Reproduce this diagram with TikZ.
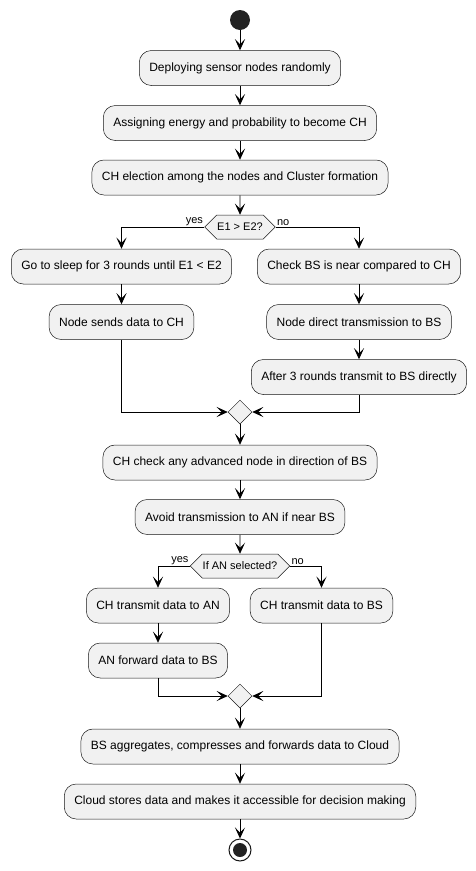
\documentclass[tikz,border=0pt]{standalone}
\usepackage{fontspec}
\setmainfont{Liberation Sans}
\usetikzlibrary{shapes.geometric,shapes.symbols,arrows.meta}
\definecolor{boxfill}{HTML}{F1F1F1}
\definecolor{boxline}{HTML}{181818}
\definecolor{dotfill}{HTML}{222222}

\begin{document}
\begin{tikzpicture}[x=1pt,y=-1pt,line width=0.8pt,
    >={Stealth[length=11pt,width=10pt,inset=5pt]},
    act/.style={draw=boxline, fill=boxfill, line width=0.5pt, rounded corners=12pt,
      minimum height=35pt, inner xsep=10pt, font=\fontsize{12}{14}\selectfont},
    hex/.style={signal, signal to=east and west, signal pointer angle=90,
      draw=boxline, fill=boxfill, line width=0.5pt, minimum height=24pt,
      inner xsep=0.5pt, font=\fontsize{11}{13}\selectfont},
    merge/.style={diamond, draw=boxline, fill=boxfill, line width=0.5pt,
      minimum size=24pt, inner sep=0pt},
    lbl/.style={font=\fontsize{11}{13}\selectfont, inner sep=1pt}]
  \useasboundingbox (0,0) rectangle (476,871);
  \node(start) [circle, fill=dotfill, minimum size=20pt, inner sep=0pt] at (240,20) {};
  \node(A1) [act] at (240,68) {Deploying sensor nodes randomly};
  \node(A2) [act] at (240,123) {Assigning energy and probability to become CH};
  \node(A3) [act] at (240,177.5) {CH election among the nodes and Cluster formation};
  \node(D1) [hex] at (240,227) {E1 > E2?};
  \node(L1) [act] at (121.5,266.5) {Go to sleep for 3 rounds until E1 < E2};
  \node(L2) [act] at (121.5,322) {Node sends data to CH};
  \node(R1) [act] at (359,266.5) {Check BS is near compared to CH};
  \node(R2) [act] at (359,322) {Node direct transmission to BS};
  \node(R3) [act] at (359,377) {After 3 rounds transmit to BS directly};
  \node(M1) [merge] at (240,412) {};
  \node(A4) [act] at (240,462.5) {CH check any advanced node in direction of BS};
  \node(A5) [act] at (240,517) {Avoid transmission to AN if near BS};
  \node(D2) [hex] at (240,566) {If AN selected?};
  \node(L3) [act] at (158,605.5) {CH transmit data to AN};
  \node(L4) [act] at (158,660.5) {AN forward data to BS};
  \node(R4) [act] at (321.5,605.5) {CH transmit data to BS};
  \node(M2) [merge] at (240,696) {};
  \node(A6) [act] at (240,746.5) {BS aggregates, compresses and forwards data to Cloud};
  \node(A7) [act] at (240,801.5) {Cloud stores data and makes it accessible for decision making};
  \node(stop) [circle, draw=boxline, fill=white, line width=1pt, minimum size=22pt] at (240,850) {};
  \fill[dotfill] (stop.center) circle (7pt);

  \draw[->] (start) -- (A1);
  \draw[->] (A1) -- (A2);
  \draw[->] (A2) -- (A3);
  \draw[->] (A3) -- (D1);
  \draw[->] (D1.west) node[lbl, anchor=south east] {yes} -| (L1);
  \draw[->] (D1.east) node[lbl, anchor=south west] {no} -| (R1);
  \draw[->] (L1) -- (L2);
  \draw[->] (R1) -- (R2);
  \draw[->] (R2) -- (R3);
  \draw[->] (L2) |- (M1);
  \draw[->] (R3) |- (M1);
  \draw[->] (M1) -- (A4);
  \draw[->] (A4) -- (A5);
  \draw[->] (A5) -- (D2);
  \draw[->] (D2.west) node[lbl, anchor=south east] {yes} -| (L3);
  \draw[->] (D2.east) node[lbl, anchor=south west] {no} -| (R4);
  \draw[->] (L3) -- (L4);
  \draw[->] (L4) |- (M2);
  \draw[->] (R4) |- (M2);
  \draw[->] (M2) -- (A6);
  \draw[->] (A6) -- (A7);
  \draw[->] (A7) -- (stop);
\end{tikzpicture}
\end{document}
